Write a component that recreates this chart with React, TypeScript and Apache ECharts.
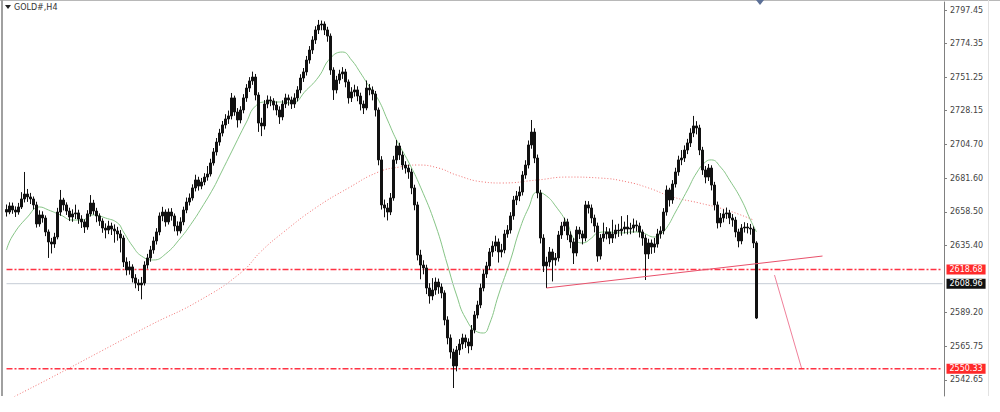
import React, { useEffect, useRef } from "react";
import * as echarts from "echarts";

// ---- data (GOLD#, H4) ----
const symbolTitle = "GOLD#,H4";
const SLOT_COUNT = 313; // candle slots across the plot (incl. right shift space)
const slots: string[] = Array.from({ length: SLOT_COUNT }, (_, i) => String(i));

const Y_MIN = 2531.61;
const Y_MAX = 2802.96;
const priceTicks = [2797.45, 2774.35, 2751.25, 2728.15, 2704.7, 2681.6, 2658.5, 2635.4, 2589.2, 2565.75, 2542.65];

const supportLevel = 2618.68;
const targetLevel = 2550.33;
const bidLevel = 2608.96;

// [open, close, low, high]
const candles: number[][] = [
  [2660.0, 2658.3, 2655.2, 2663.5], [2658.3, 2662.5, 2656.8, 2665.0], [2662.5, 2659.7, 2657.1, 2664.8], [2659.7, 2658.3, 2654.9, 2662.2],
  [2658.3, 2661.8, 2656.5, 2664.6], [2661.8, 2667.3, 2660.4, 2672.0], [2667.3, 2670.7, 2664.9, 2685.9], [2670.7, 2668.7, 2665.3, 2674.2],
  [2668.7, 2667.3, 2663.8, 2671.5], [2667.3, 2663.2, 2660.1, 2669.0], [2663.2, 2650.1, 2647.6, 2665.4], [2650.1, 2656.3, 2648.2, 2659.5],
  [2656.3, 2654.2, 2651.0, 2658.8], [2654.2, 2644.6, 2641.7, 2656.0], [2644.6, 2637.7, 2626.7, 2646.3], [2637.7, 2636.3, 2629.8, 2640.5],
  [2636.3, 2641.1, 2633.6, 2644.0], [2641.1, 2658.3, 2639.5, 2661.2], [2658.3, 2666.6, 2655.7, 2673.5], [2666.6, 2663.2, 2659.4, 2668.1],
  [2663.2, 2659.0, 2656.3, 2665.0], [2659.0, 2654.9, 2652.1, 2661.3], [2654.9, 2657.0, 2651.6, 2660.2], [2657.0, 2657.7, 2653.5, 2663.4],
  [2657.7, 2653.5, 2650.2, 2659.9], [2653.5, 2651.5, 2647.3, 2656.1], [2651.5, 2648.0, 2643.9, 2653.2], [2648.0, 2657.0, 2646.1, 2659.6],
  [2657.0, 2664.5, 2655.2, 2670.0], [2664.5, 2659.0, 2656.5, 2666.7], [2659.0, 2655.6, 2651.3, 2661.2], [2655.6, 2652.1, 2648.8, 2657.4],
  [2652.1, 2647.3, 2644.0, 2654.0], [2647.3, 2645.9, 2640.2, 2650.5], [2645.9, 2648.7, 2643.1, 2652.3], [2648.7, 2646.6, 2642.5, 2651.0],
  [2646.6, 2645.3, 2637.2, 2649.8], [2645.3, 2643.2, 2638.6, 2648.1], [2643.2, 2640.4, 2630.5, 2645.9], [2640.4, 2623.9, 2620.4, 2642.2],
  [2623.9, 2618.4, 2614.7, 2627.1], [2618.4, 2620.5, 2615.2, 2624.6], [2620.5, 2612.9, 2609.8, 2622.3], [2612.9, 2609.4, 2605.8, 2615.5],
  [2609.4, 2608.1, 2603.9, 2612.0], [2608.1, 2609.4, 2598.2, 2613.6], [2609.4, 2621.8, 2607.7, 2624.4], [2621.8, 2626.7, 2619.3, 2629.5],
  [2626.7, 2632.2, 2624.1, 2635.0], [2632.2, 2638.4, 2629.6, 2641.3], [2638.4, 2644.6, 2635.9, 2647.2], [2644.6, 2655.6, 2642.3, 2658.0],
  [2655.6, 2658.3, 2652.0, 2661.9], [2658.3, 2651.5, 2648.3, 2660.1], [2651.5, 2658.3, 2649.7, 2660.8], [2658.3, 2655.6, 2652.4, 2661.0],
  [2655.6, 2648.7, 2645.0, 2657.3], [2648.7, 2645.3, 2642.1, 2651.9], [2645.3, 2651.5, 2643.6, 2654.7], [2651.5, 2659.7, 2649.2, 2662.0],
  [2659.7, 2665.2, 2657.5, 2668.3], [2665.2, 2668.0, 2662.8, 2671.1], [2668.0, 2674.9, 2666.2, 2677.4], [2674.9, 2680.4, 2672.5, 2684.0],
  [2680.4, 2676.2, 2673.1, 2682.6], [2676.2, 2679.0, 2674.0, 2681.8], [2679.0, 2682.4, 2676.8, 2685.1], [2682.4, 2684.5, 2679.9, 2690.0],
  [2684.5, 2692.1, 2682.8, 2695.0], [2692.1, 2699.7, 2690.3, 2702.4], [2699.7, 2706.5, 2697.2, 2709.3], [2706.5, 2712.7, 2704.0, 2715.6],
  [2712.7, 2718.3, 2710.4, 2721.0], [2718.3, 2722.4, 2715.8, 2725.7], [2722.4, 2724.5, 2719.0, 2728.2], [2724.5, 2736.9, 2722.1, 2740.3],
  [2736.9, 2727.2, 2724.6, 2738.5], [2727.2, 2721.7, 2716.5, 2729.9], [2721.7, 2728.6, 2719.4, 2731.2], [2728.6, 2736.9, 2726.3, 2739.5],
  [2736.9, 2743.7, 2734.2, 2746.4], [2743.7, 2748.6, 2741.0, 2751.2], [2748.6, 2751.3, 2745.9, 2755.0], [2751.3, 2738.9, 2735.2, 2753.4],
  [2738.9, 2719.6, 2713.5, 2740.8], [2719.6, 2717.6, 2710.6, 2723.2], [2717.6, 2732.7, 2715.1, 2735.4], [2732.7, 2735.5, 2729.8, 2738.6],
  [2735.5, 2734.8, 2731.2, 2738.0], [2734.8, 2732.0, 2728.4, 2736.7], [2732.0, 2728.6, 2724.9, 2734.5], [2728.6, 2723.8, 2719.0, 2731.1],
  [2723.8, 2732.7, 2721.5, 2735.3], [2732.7, 2736.9, 2729.9, 2739.8], [2736.9, 2735.5, 2731.6, 2739.2], [2735.5, 2732.7, 2729.3, 2737.8],
  [2732.7, 2736.9, 2730.0, 2740.1], [2736.9, 2742.4, 2734.5, 2745.0], [2742.4, 2750.6, 2740.1, 2753.2], [2750.6, 2754.8, 2747.9, 2757.5],
  [2754.8, 2763.0, 2752.3, 2765.8], [2763.0, 2769.9, 2760.5, 2772.6], [2769.9, 2776.8, 2767.2, 2779.4], [2776.8, 2783.7, 2774.1, 2786.3],
  [2783.7, 2787.1, 2780.9, 2790.6], [2787.1, 2787.8, 2783.5, 2790.2], [2787.8, 2783.7, 2780.2, 2789.6], [2783.7, 2779.5, 2775.6, 2785.9],
  [2779.5, 2756.1, 2752.8, 2781.3], [2756.1, 2742.4, 2735.5, 2758.0], [2742.4, 2749.2, 2740.0, 2752.1], [2749.2, 2753.4, 2746.6, 2756.3],
  [2753.4, 2754.8, 2750.0, 2758.1], [2754.8, 2747.9, 2744.2, 2756.9], [2747.9, 2736.9, 2733.0, 2749.6], [2736.9, 2741.0, 2734.1, 2744.3],
  [2741.0, 2742.4, 2737.8, 2746.0], [2742.4, 2738.2, 2734.6, 2744.9], [2738.2, 2732.7, 2728.3, 2740.5], [2732.7, 2730.0, 2725.8, 2735.1],
  [2730.0, 2743.7, 2728.4, 2748.9], [2743.7, 2742.4, 2738.7, 2746.5], [2742.4, 2739.6, 2735.2, 2744.8], [2739.6, 2728.6, 2724.1, 2741.7],
  [2728.6, 2694.2, 2690.5, 2730.3], [2694.2, 2663.2, 2660.0, 2696.8], [2663.2, 2661.1, 2654.7, 2666.9], [2661.1, 2658.3, 2652.5, 2664.5],
  [2658.3, 2668.0, 2656.2, 2671.4], [2668.0, 2694.2, 2666.1, 2697.0], [2694.2, 2703.8, 2691.5, 2707.9], [2703.8, 2697.6, 2694.2, 2706.0],
  [2697.6, 2690.7, 2687.4, 2700.1], [2690.7, 2688.6, 2684.8, 2693.3], [2688.6, 2685.9, 2681.2, 2691.0], [2685.9, 2674.9, 2670.6, 2688.2],
  [2674.9, 2663.2, 2659.5, 2677.1], [2663.2, 2628.7, 2625.0, 2665.4], [2628.7, 2621.8, 2612.0, 2632.3], [2621.8, 2619.8, 2615.4, 2625.1],
  [2619.8, 2606.0, 2601.8, 2622.0], [2606.0, 2600.5, 2595.2, 2609.3], [2600.5, 2604.6, 2597.6, 2612.8], [2604.6, 2610.1, 2601.3, 2613.2],
  [2610.1, 2606.7, 2602.0, 2612.5], [2606.7, 2602.6, 2598.9, 2609.1], [2602.6, 2584.0, 2580.3, 2604.4], [2584.0, 2571.6, 2567.2, 2586.5],
  [2571.6, 2561.9, 2557.4, 2574.0], [2561.9, 2552.3, 2537.1, 2564.2], [2552.3, 2563.3, 2548.6, 2566.0], [2563.3, 2567.4, 2559.9, 2570.8],
  [2567.4, 2571.6, 2563.8, 2574.5], [2571.6, 2568.8, 2564.7, 2573.9], [2568.8, 2566.1, 2561.0, 2571.3], [2566.1, 2577.1, 2563.2, 2580.5],
  [2577.1, 2587.4, 2574.8, 2590.1], [2587.4, 2594.3, 2585.0, 2597.2], [2594.3, 2606.0, 2592.1, 2609.0], [2606.0, 2615.6, 2603.7, 2618.5],
  [2615.6, 2621.2, 2612.9, 2624.0], [2621.2, 2630.8, 2618.6, 2633.5], [2630.8, 2634.9, 2627.5, 2638.2], [2634.9, 2637.7, 2631.4, 2642.0],
  [2637.7, 2630.8, 2623.5, 2640.1], [2630.8, 2632.2, 2627.1, 2636.4], [2632.2, 2643.2, 2629.9, 2646.0], [2643.2, 2645.9, 2640.6, 2649.3],
  [2645.9, 2655.6, 2643.5, 2658.2], [2655.6, 2666.6, 2653.0, 2669.4], [2666.6, 2669.4, 2663.1, 2672.8], [2669.4, 2672.1, 2665.8, 2676.0],
  [2672.1, 2683.8, 2669.7, 2686.5], [2683.8, 2690.7, 2681.2, 2694.0], [2690.7, 2704.5, 2688.3, 2707.6], [2704.5, 2713.4, 2701.9, 2721.7],
  [2713.4, 2695.5, 2692.0, 2716.0], [2695.5, 2671.4, 2667.8, 2697.9], [2671.4, 2640.4, 2636.7, 2673.6], [2640.4, 2621.2, 2617.0, 2643.0],
  [2621.2, 2623.9, 2606.0, 2627.5], [2623.9, 2630.8, 2620.6, 2634.2], [2630.8, 2625.3, 2610.5, 2633.0], [2625.3, 2626.7, 2621.4, 2630.1],
  [2626.7, 2642.5, 2624.2, 2645.3], [2642.5, 2648.7, 2639.8, 2651.5], [2648.7, 2651.5, 2645.2, 2654.4], [2651.5, 2642.5, 2639.0, 2653.7],
  [2642.5, 2637.7, 2633.4, 2645.0], [2637.7, 2630.1, 2622.5, 2640.3], [2630.1, 2645.9, 2627.8, 2648.5], [2645.9, 2643.2, 2639.7, 2648.1],
  [2643.2, 2640.4, 2636.0, 2645.6], [2640.4, 2663.2, 2638.1, 2666.0], [2663.2, 2661.1, 2657.3, 2665.8], [2661.1, 2654.2, 2650.6, 2663.5],
  [2654.2, 2648.7, 2644.3, 2656.5], [2648.7, 2628.0, 2624.1, 2651.0], [2628.0, 2640.4, 2625.6, 2643.1], [2640.4, 2643.2, 2637.8, 2651.0],
  [2643.2, 2644.6, 2639.5, 2648.0], [2644.6, 2640.4, 2636.2, 2647.1], [2640.4, 2643.2, 2637.0, 2653.0], [2643.2, 2645.9, 2640.1, 2649.6],
  [2645.9, 2645.3, 2641.2, 2650.2], [2645.3, 2646.6, 2642.0, 2655.5], [2646.6, 2648.0, 2643.5, 2651.7], [2648.0, 2646.6, 2642.9, 2656.2],
  [2646.6, 2647.3, 2643.0, 2650.9], [2647.3, 2649.4, 2644.1, 2653.8], [2649.4, 2648.7, 2644.9, 2652.5], [2648.7, 2644.6, 2640.8, 2651.0],
  [2644.6, 2640.4, 2635.1, 2646.3], [2640.4, 2629.4, 2611.5, 2642.8], [2629.4, 2637.0, 2626.0, 2639.9], [2637.0, 2634.2, 2629.5, 2639.4],
  [2634.2, 2636.3, 2630.2, 2640.5], [2636.3, 2643.2, 2633.8, 2646.7], [2643.2, 2645.3, 2640.0, 2648.5], [2645.3, 2658.3, 2642.9, 2661.0],
  [2658.3, 2673.5, 2655.8, 2676.6], [2673.5, 2666.6, 2662.1, 2675.0], [2666.6, 2677.6, 2664.0, 2680.3], [2677.6, 2685.9, 2675.2, 2688.8],
  [2685.9, 2694.2, 2683.3, 2697.1], [2694.2, 2695.5, 2690.6, 2701.0], [2695.5, 2701.0, 2692.8, 2704.2], [2701.0, 2705.9, 2698.2, 2708.7],
  [2705.9, 2712.7, 2703.1, 2716.0], [2712.7, 2717.6, 2709.9, 2724.5], [2717.6, 2716.2, 2711.8, 2720.9], [2716.2, 2701.0, 2697.5, 2718.4],
  [2701.0, 2687.3, 2683.9, 2703.2], [2687.3, 2682.4, 2678.1, 2690.0], [2682.4, 2688.6, 2679.7, 2691.4], [2688.6, 2676.9, 2673.2, 2690.5],
  [2676.9, 2663.2, 2659.4, 2679.1], [2663.2, 2650.8, 2647.0, 2665.5], [2650.8, 2654.2, 2647.9, 2657.6], [2654.2, 2657.0, 2651.2, 2660.3],
  [2657.0, 2657.7, 2653.6, 2661.4], [2657.7, 2654.2, 2650.0, 2659.8], [2654.2, 2652.8, 2648.2, 2656.9], [2652.8, 2644.6, 2640.9, 2655.0],
  [2644.6, 2638.4, 2634.0, 2646.8], [2638.4, 2647.3, 2636.1, 2650.0], [2647.3, 2648.0, 2644.2, 2651.3], [2648.0, 2647.3, 2643.6, 2650.7],
  [2647.3, 2646.6, 2642.7, 2650.1], [2646.6, 2637.0, 2633.5, 2648.4], [2637.0, 2585.3, 2584.6, 2638.2],
];

// fast moving average (green), sampled points [slot, price]
const maFast: number[][] = [
  [0, 2632.2], [2, 2641.8], [7, 2654.9], [11, 2661.8], [14, 2659.7], [18, 2656.3], [22, 2652.8], [25, 2652.8],
  [29, 2656.3], [33, 2654.2], [37, 2650.8], [39, 2644.6], [42, 2634.9], [45, 2628.0], [49, 2625.3], [53, 2629.4],
  [58, 2640.4], [62, 2651.5], [65, 2661.1], [69, 2674.9], [71, 2683.1], [75, 2699.7], [80, 2720.3], [83, 2731.3],
  [87, 2734.1], [91, 2734.1], [95, 2733.4], [100, 2742.4], [104, 2751.3], [108, 2764.4], [112, 2768.5], [115, 2763.0],
  [118, 2754.1], [121, 2744.4], [124, 2735.5], [127, 2721.7], [130, 2707.9], [134, 2692.8], [138, 2675.5], [143, 2649.4],
  [147, 2621.8], [150, 2601.2], [153, 2585.3], [157, 2575.7], [159, 2575.0], [161, 2581.2], [164, 2601.2], [168, 2625.3],
  [171, 2645.9], [174, 2661.1], [177, 2672.1], [180, 2669.4], [183, 2662.5], [187, 2650.1], [189, 2640.4], [192, 2637.0],
  [195, 2640.4], [197, 2643.9], [200, 2644.6], [205, 2643.9], [209, 2644.6], [212, 2643.9], [216, 2641.1], [218, 2643.2],
  [220, 2647.3], [223, 2658.3], [227, 2673.5], [230, 2685.2], [233, 2692.8], [235, 2694.2], [238, 2689.3], [241, 2680.4],
  [245, 2666.6], [248, 2652.8], [250, 2644.6],
];

// slow moving average (red dotted), sampled points [slot, price]
const maSlow: number[][] = [
  [0, 2528.2], [3, 2531.6], [14, 2543.3], [31, 2561.9], [48, 2580.5], [64, 2597.0], [78, 2616.3], [85, 2631.5],
  [92, 2643.9], [103, 2661.1], [114, 2674.9], [124, 2685.9], [131, 2689.3], [137, 2690.7], [144, 2688.6], [150, 2683.8],
  [159, 2679.0], [165, 2678.3], [177, 2680.4], [187, 2682.4], [198, 2681.7], [207, 2679.0], [214, 2674.9], [222, 2668.7],
  [231, 2664.5], [240, 2659.7], [249, 2652.8],
];

// drawn objects: rising trendline and projected move
const trendLine: number[][] = [[180, 2606.0], [272, 2628.0]];
const projection: number[][] = [[256, 2614.9], [265, 2550.9]];

const FONT = "'DejaVu Sans', 'Liberation Sans', sans-serif";

export default function App() {
  const ref = useRef<HTMLDivElement>(null);

  useEffect(() => {
    document.body.style.margin = "0";
    if (!ref.current) return;
    const chart = echarts.init(ref.current, null, { renderer: "svg" });

    const LAST = SLOT_COUNT - 1;
    const levelSeries = (value: number, color: string, type: any, width: number, labelBg: string, z: number) => ({
      type: "line",
      data: [[0, value], [LAST, value]],
      showSymbol: false,
      silent: true,
      z,
      lineStyle: { color, width, type },
      endLabel: {
        show: true,
        distance: 4,
        formatter: () => value.toFixed(2),
        color: "#fff",
        backgroundColor: labelBg,
        padding: [1, 3, 1, 3],
        fontSize: 8,
        fontFamily: FONT,
      },
    });

    const option: any = {
      animation: false,
      backgroundColor: "#ffffff",
      grid: { left: 5, right: 56, top: 2, bottom: 16, containLabel: false },
      xAxis: {
        type: "category",
        data: slots,
        boundaryGap: true,
        show: false,
      },
      yAxis: {
        type: "value",
        position: "right",
        min: Y_MIN,
        max: Y_MAX,
        axisLine: { show: true, lineStyle: { color: "#808080", width: 1 } },
        axisTick: { show: true, length: 3, customValues: priceTicks, lineStyle: { color: "#808080" } },
        axisLabel: {
          customValues: priceTicks,
          formatter: (v: number) => v.toFixed(2),
          fontSize: 8,
          color: "#444",
          margin: 6,
          fontFamily: FONT,
        },
        splitLine: { show: false },
      },
      graphic: [
        { type: "rect", shape: { x: 0, y: 0, width: 1000, height: 1 }, style: { fill: "#b8b8b8" }, silent: true },
        { type: "rect", shape: { x: 1, y: 0, width: 2, height: 396 }, style: { fill: "#a0a0a0" }, silent: true },
        { type: "rect", shape: { x: 988, y: 0, width: 1, height: 396 }, style: { fill: "#e2e2e2" }, silent: true },
        { type: "polygon", shape: { points: [[5, 5], [11, 5], [8, 9]] }, style: { fill: "#222" }, silent: true },
        {
          type: "text",
          x: 14,
          y: 3,
          style: { text: symbolTitle, fontSize: 8, fill: "#333", fontFamily: FONT },
          silent: true,
        },
        { type: "polygon", shape: { points: [[756, 0], [764, 0], [760, 5]] }, style: { fill: "#5b6f96" }, silent: true },
      ],
      series: [
        {
          type: "line",
          data: maSlow,
          smooth: true,
          showSymbol: false,
          silent: true,
          z: 1,
          lineStyle: { color: "#f07070", width: 1, type: [1, 2] },
        },
        {
          type: "line",
          data: maFast,
          smooth: true,
          showSymbol: false,
          silent: true,
          z: 1,
          lineStyle: { color: "#86c486", width: 1 },
        },
        levelSeries(bidLevel, "#c5ccd6", "solid", 1, "#111", 2),
        levelSeries(supportLevel, "#ff3344", [6, 2, 2, 2], 1.4, "#ff2a2a", 2),
        levelSeries(targetLevel, "#ff3344", [6, 2, 2, 2], 1.4, "#ff2a2a", 2),
        {
          type: "candlestick",
          data: candles,
          barWidth: 2,
          z: 3,
          itemStyle: {
            color: "#111",
            color0: "#111",
            borderColor: "#111",
            borderColor0: "#111",
            borderWidth: 1,
          },
        },
        {
          type: "line",
          data: trendLine,
          showSymbol: false,
          silent: true,
          z: 4,
          lineStyle: { color: "#e8506a", width: 1 },
        },
        {
          type: "line",
          data: projection,
          showSymbol: false,
          silent: true,
          z: 4,
          lineStyle: { color: "#f0809a", width: 1 },
        },
      ],
    };

    chart.setOption(option);
    return () => chart.dispose();
  }, []);

  return (
    <div
      ref={ref}
      style={{ position: "fixed", left: 0, top: 0, width: 1000, height: 412, background: "#fff" }}
    />
  );
}
